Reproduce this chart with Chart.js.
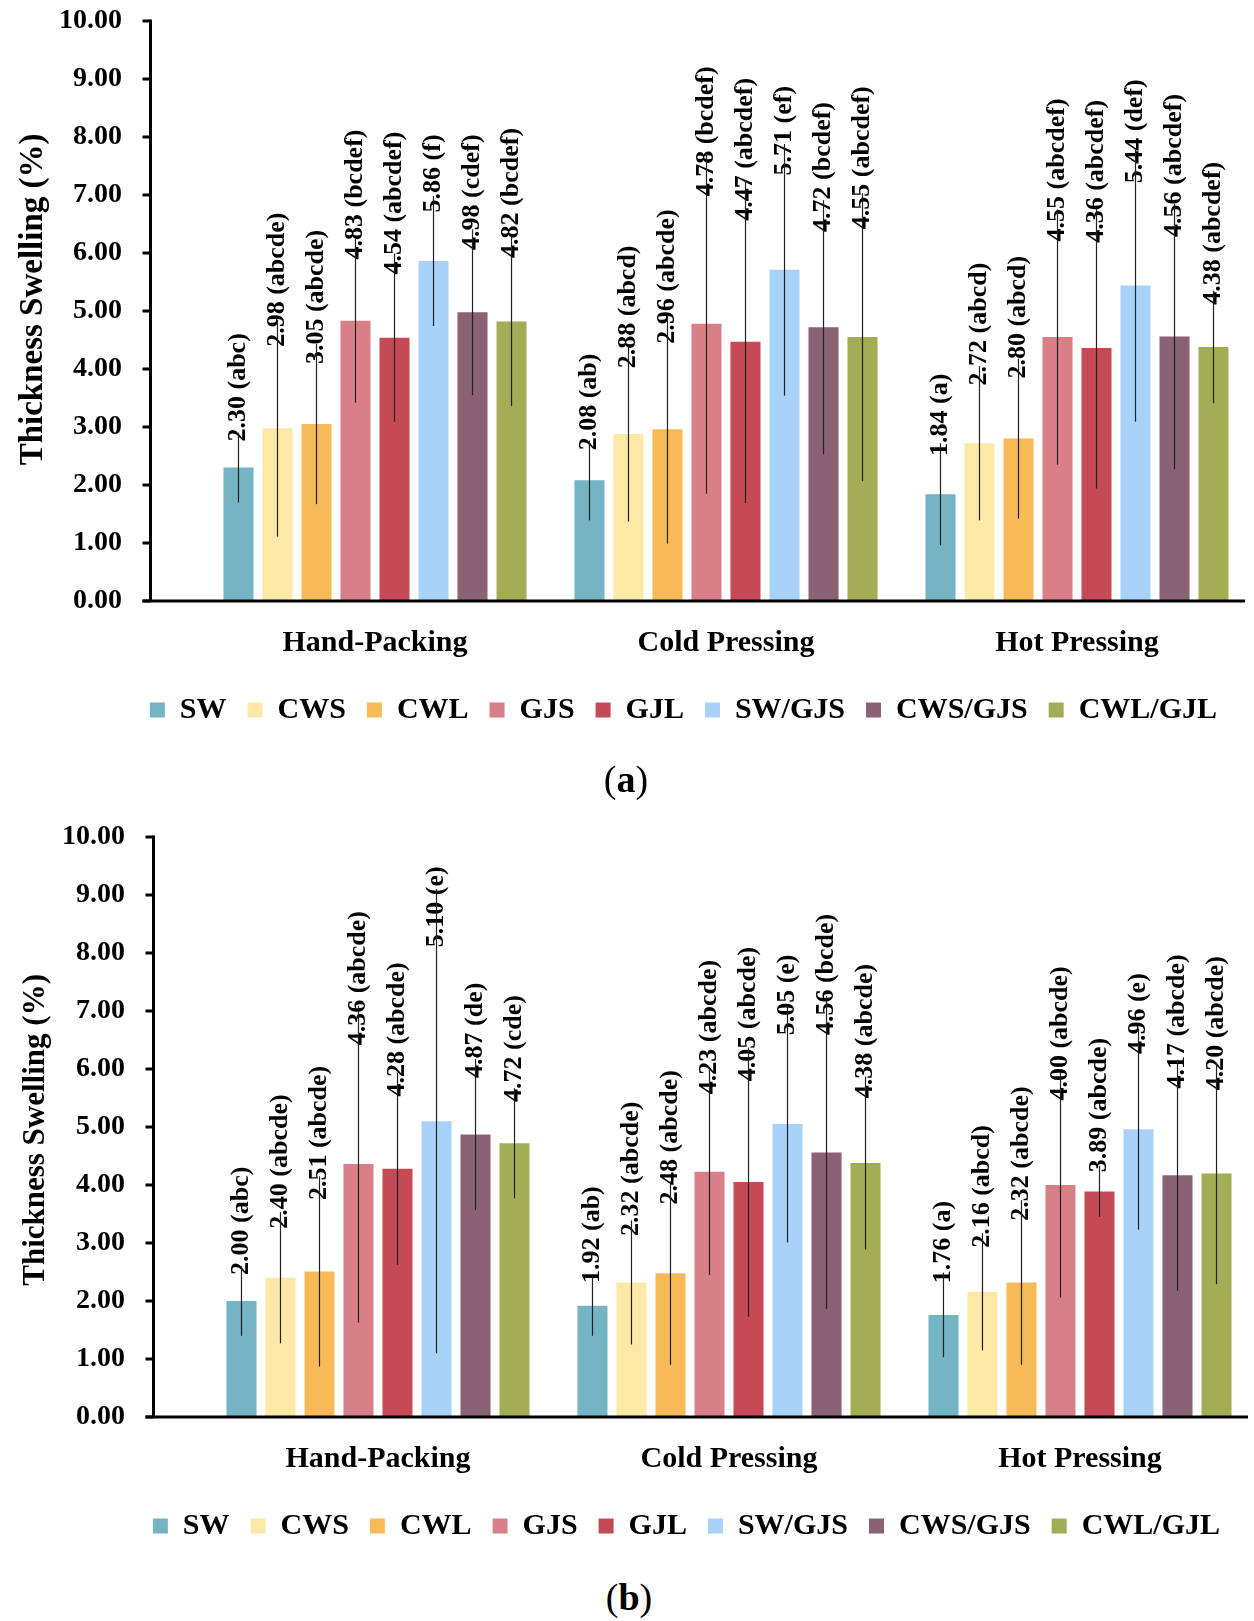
<!DOCTYPE html>
<html>
<head>
<meta charset="utf-8">
<script src="https://cdn.jsdelivr.net/npm/chart.js@4.4.0/dist/chart.umd.min.js"></script>
<style>
  html, body { margin: 0; padding: 0; background: #fff; overflow: hidden; }
  body { width: 1254px; height: 1621px; position: relative; font-family: "Liberation Serif", "Times New Roman", serif; }
  .panel { position: absolute; width: 1254px; height: 760px; }
  .caption { position: absolute; width: 100px; text-align: center; font-size: 38px; line-height: 40px; color: #000; }
  .caption b { font-weight: bold; }
</style>
</head>
<body>
<div class="panel" style="left:0; top:0;"><canvas id="chartA" width="1254" height="760"></canvas></div>
<div class="caption" style="left:576px; top:759px;">(<b>a</b>)</div>
<div class="panel" style="left:3px; top:816px;"><canvas id="chartB" width="1254" height="760"></canvas></div>
<div class="caption" style="left:579px; top:1577px;">(<b>b</b>)</div>
<script>
const FONT = "'Liberation Serif', 'Times New Roman', serif";

const categories = ["Hand-Packing", "Cold Pressing", "Hot Pressing"];
const seriesNames = ["SW", "CWS", "CWL", "GJS", "GJL", "SW/GJS", "CWS/GJS", "CWL/GJL"];
const seriesColors = ["#75B4C4", "#FEE8A6", "#F8BA56", "#D97F88", "#C64A55", "#A8D2F8", "#8A6273", "#A2AD56"];

// panel (a)
const meanHandA = [2.30, 2.98, 3.05, 4.83, 4.54, 5.86, 4.98, 4.82];
const meanColdA = [2.08, 2.88, 2.96, 4.78, 4.47, 5.71, 4.72, 4.55];
const meanHotA = [1.84, 2.72, 2.80, 4.55, 4.36, 5.44, 4.56, 4.38];
const errHandA = [0.60, 1.87, 1.38, 1.41, 1.45, 1.12, 1.43, 1.46];
const errColdA = [0.69, 1.51, 1.97, 2.93, 2.78, 2.17, 2.19, 2.48];
const errHotA = [0.88, 1.33, 1.38, 2.20, 2.42, 2.35, 2.29, 0.97];
const letterHandA = ["abc", "abcde", "abcde", "bcdef", "abcdef", "f", "cdef", "bcdef"];
const letterColdA = ["ab", "abcd", "abcde", "bcdef", "abcdef", "ef", "bcdef", "abcdef"];
const letterHotA = ["a", "abcd", "abcd", "abcdef", "abcdef", "def", "abcdef", "abcdef"];

// panel (b)
const meanHandB = [2.00, 2.40, 2.51, 4.36, 4.28, 5.10, 4.87, 4.72];
const meanColdB = [1.92, 2.32, 2.48, 4.23, 4.05, 5.05, 4.56, 4.38];
const meanHotB = [1.76, 2.16, 2.32, 4.00, 3.89, 4.96, 4.17, 4.20];
const errHandB = [0.60, 1.13, 1.64, 2.73, 1.66, 4.00, 1.30, 0.95];
const errColdB = [0.52, 1.07, 1.58, 1.78, 2.32, 2.04, 2.70, 1.49];
const errHotB = [0.73, 1.01, 1.42, 1.94, 0.44, 1.73, 1.99, 1.91];
const letterHandB = ["abc", "abcde", "abcde", "abcde", "abcde", "e", "de", "cde"];
const letterColdB = ["ab", "abcde", "abcde", "abcde", "abcde", "e", "bcde", "abcde"];
const letterHotB = ["a", "abcd", "abcde", "abcde", "abcde", "e", "abcde", "abcde"];

const yMin = 0, yMax = 10, yStep = 1;
const yTitle = "Thickness Swelling (%)";

// error bars, value labels, axes and y title
const decor = {
  id: "decor",
  afterLayout(chart, args, opts) {
    // legend sits centred under the plot, not under the whole canvas
    if (chart.legend) chart.legend.left = opts.legendLeft;
  },
  afterDatasetsDraw(chart, args, opts) {
    const { ctx, chartArea, scales: { y } } = chart;
    ctx.save();
    chart.data.datasets.forEach((ds, i) => {
      const meta = chart.getDatasetMeta(i);
      meta.data.forEach((bar, j) => {
        const v = ds.data[j];
        const e = opts.errors[j][i];
        ctx.save();
        ctx.translate(bar.x, y.getPixelForValue(v + 0.75 * e));
        ctx.rotate(-Math.PI / 2);
        ctx.font = "bold 26px " + FONT;
        ctx.fillStyle = "#000";
        ctx.textAlign = "left";
        ctx.textBaseline = "middle";
        ctx.fillText(v.toFixed(2) + " (" + opts.letters[j][i] + ")", 0, 0);
        ctx.restore();
        ctx.beginPath();
        ctx.strokeStyle = "#222";
        ctx.lineWidth = 1.2;
        ctx.moveTo(bar.x, y.getPixelForValue(v - e));
        ctx.lineTo(bar.x, y.getPixelForValue(v + e));
        ctx.stroke();
      });
    });

    // axis lines
    const ax = chartArea.left - 49;
    const y0 = y.getPixelForValue(yMin);
    ctx.strokeStyle = "#000";
    ctx.lineWidth = 3;
    ctx.beginPath();
    ctx.moveTo(ax, y.getPixelForValue(yMax) - 1.5);
    ctx.lineTo(ax, y0);
    ctx.stroke();
    for (let t = yMin; t <= yMax; t += yStep) {
      const py = y.getPixelForValue(t);
      ctx.beginPath();
      ctx.moveTo(ax - 8, py);
      ctx.lineTo(ax, py);
      ctx.stroke();
    }
    ctx.beginPath();
    ctx.moveTo(ax - 8, y0);
    ctx.lineTo(chartArea.right - 7.5, y0);
    ctx.stroke();

    // y title
    ctx.save();
    ctx.translate(33, y.getPixelForValue(opts.titleAt));
    ctx.rotate(-Math.PI / 2);
    ctx.font = "bold " + opts.titleSize + "px " + FONT;
    ctx.fillStyle = "#000";
    ctx.textAlign = "center";
    ctx.textBaseline = "middle";
    ctx.fillText(yTitle, 0, 0);
    ctx.restore();
    ctx.restore();
  }
};

function makeChart(id, means, errors, letters, titleSize, titleAt) {
  const datasets = seriesNames.map((name, i) => ({
    label: name,
    data: means.map(row => row[i]),
    backgroundColor: seriesColors[i],
    borderWidth: 0,
    categoryPercentage: 0.889,
    barPercentage: 0.77,
  }));
  new Chart(document.getElementById(id).getContext("2d"), {
    type: "bar",
    data: { labels: categories, datasets },
    plugins: [decor],
    options: {
      responsive: false,
      animation: false,
      layout: { padding: { left: 0, right: 1.5, top: 21, bottom: 25 } },
      scales: {
        x: {
          grid: { display: false, drawTicks: false },
          border: { display: false },
          ticks: { color: "#000", padding: 24, font: { family: FONT, size: 30, weight: "bold" } },
          afterFit: s => { s.height = 73; },
        },
        y: {
          min: yMin,
          max: yMax,
          grid: { display: false, drawTicks: false },
          border: { display: false },
          ticks: {
            stepSize: yStep,
            padding: 77.5,
            color: "#000",
            font: { family: FONT, size: 28, weight: "bold" },
            callback: v => Number(v).toFixed(2),
          },
          afterFit: s => { s.width = 199.5; s.paddingTop = 0; s.paddingBottom = 0; },
        },
      },
      plugins: {
        legend: {
          position: "bottom",
          labels: {
            boxWidth: 15,
            boxHeight: 15,
            padding: 21,
            color: "#000",
            font: { family: FONT, size: 30, weight: "bold" },
          },
        },
        tooltip: { enabled: false },
        decor: { errors, letters, titleSize, titleAt, legendLeft: 114.4 },
      },
    },
  });
}

makeChart("chartA", [meanHandA, meanColdA, meanHotA], [errHandA, errColdA, errHotA], [letterHandA, letterColdA, letterHotA], 33, 5.2);
makeChart("chartB", [meanHandB, meanColdB, meanHotB], [errHandB, errColdB, errHotB], [letterHandB, letterColdB, letterHotB], 31, 4.95);
</script>
</body>
</html>
